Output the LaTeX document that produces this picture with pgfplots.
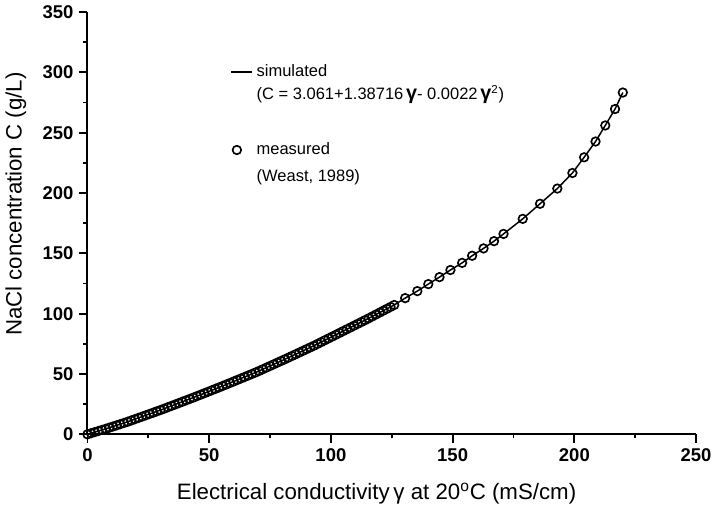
\documentclass[border=0pt]{standalone}
\usepackage{pgfplots}
\usepackage{pgfplotstable}
\pgfplotsset{compat=1.18}
\usepackage{fontspec}
\setmainfont{Liberation Sans}

\pgfplotstableread{
g c
0 0
1.5 0.92
3 1.83
4.5 2.75
6 3.66
7.5 4.58
9 5.52
10.5 6.49
12 7.46
13.5 8.43
15 9.40
16.5 10.41
18 11.49
19.5 12.56
21 13.64
22.5 14.72
24 15.79
25.5 16.87
27 17.95
28.5 19.03
30 20.10
31.5 21.25
33 22.40
34.5 23.55
36 24.70
37.5 25.85
39 27.00
40.5 28.15
42 29.30
43.5 30.45
45 31.64
46.5 32.84
48 34.04
49.5 35.24
51 36.44
52.5 37.64
54 38.84
55.5 40.04
57 41.27
58.5 42.51
60 43.76
61.5 45.00
63 46.25
64.5 47.49
66 48.74
67.5 49.98
69 51.23
70.5 52.52
72 53.90
73.5 55.27
75 56.64
76.5 58.01
78 59.39
79.5 60.76
81 62.13
82.5 63.53
84 64.94
85.5 66.35
87 67.76
88.5 69.17
90 70.58
91.5 72.00
93 73.40
94.5 74.92
96 76.43
97.5 77.95
99 79.46
100.5 80.98
102 82.49
103.5 84.00
105 85.51
106.5 87.03
108 88.54
109.5 90.06
111 91.57
112.5 93.09
114 94.60
115.5 96.13
117 97.71
118.5 99.29
120 100.88
121.5 102.46
123 104.04
124.5 105.62
126 107.20
130.5 112.9
135.5 118.7
140 124.5
144.6 130.3
149.1 136.2
153.9 142.1
158 148.0
162.7 154.1
167 160.1
170.9 166.1
178.8 178.6
185.9 191.1
193 203.7
199.2 216.6
204 229.6
208.7 242.7
212.7 256.0
216.7 269.6
219.9 283.3
}\measured

\begin{document}
\begin{tikzpicture}
\begin{axis}[
    name=main,
    scale only axis,
    width=369pt, height=256pt,
    xmin=0, xmax=250, ymin=0, ymax=350,
    axis x line*=bottom, axis y line*=left,
    axis line style={line width=1.2pt},
    xtick={0,50,...,250}, ytick={0,50,...,350},
    minor x tick num=1, minor y tick num=1,
    tick align=outside,
    major tick length=5pt, minor tick length=2.5pt,
    every tick/.style={black, line width=1.1pt},
    /pgf/number format/assume math mode=true,
    ticklabel style={font=\bfseries\fontsize{11.2}{13}\selectfont},
    xlabel={Electrical conductivity\,γ at 20\textsuperscript{o}C (mS/cm)},
    ylabel={NaCl concentration C (g/L)},
    label style={font=\fontsize{13.5}{16}\selectfont},
    xlabel style={at={(ticklabel cs:0.475)}, yshift=-6pt},
    ylabel style={at={(ticklabel cs:0.545)}, yshift=3pt},
    clip=false,
    legend cell align=left,
    legend style={at={(axis cs:56.5,312)}, anchor=north west, draw=none, fill=none,
        font=\fontsize{10}{12}\selectfont, row sep=0pt},
]
\addplot[black, line width=0.9pt,
    legend image code/.code={\draw[black, line width=1.2pt] (0cm,0cm) -- (0.45cm,0cm);}]
    table[x=g, y=c] {\measured};
\addlegendentry{simulated}
\addlegendimage{legend image code/.code={}}
\addlegendentry{(C = 3.061+1.38716\,{\large\textbf{γ}}- 0.0022\,{\large\textbf{γ}}\textsuperscript{2})}
\addlegendimage{legend image code/.code={}}
\addlegendentry{\rule[-6pt]{0pt}{21pt}}
\addplot[only marks, mark=o, mark size=2.6pt, mark options={black, line width=1pt},
    legend image code/.code={\draw[black, line width=1pt] (0.12cm,0cm) circle (2.6pt);}]
    table[x=g, y=c] {\measured};
\addlegendentry{measured}
\addlegendimage{legend image code/.code={}}
\addlegendentry{\rule{0pt}{11pt}(Weast, 1989)}
\end{axis}
\path (main.south west) ++(0,-51pt);
\path (main.north west) ++(0,7pt);
\end{tikzpicture}
\end{document}
